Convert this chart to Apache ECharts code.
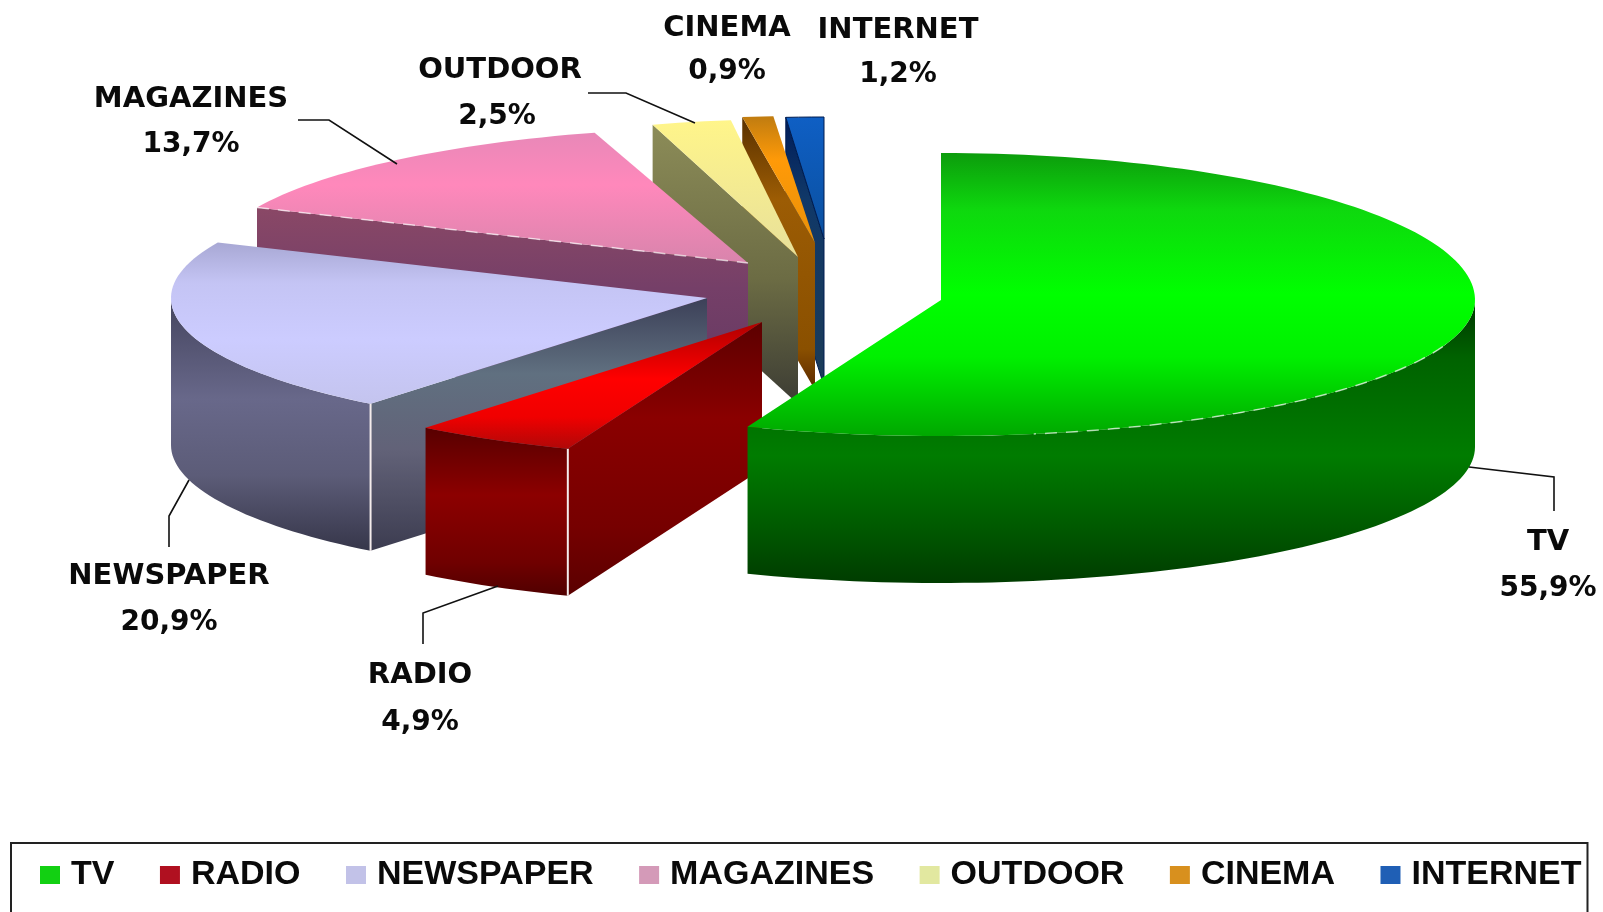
<!DOCTYPE html>
<html>
<head>
<meta charset="utf-8">
<style>html,body{margin:0;padding:0;background:#fff}#chart{width:1603px;height:912px}</style>
<script src="https://cdn.jsdelivr.net/npm/echarts@6/dist/echarts.min.js"></script>
</head>
<body>
<div id="chart"></div>
<script>
// Share of advertising spend per medium, in percent
const categories = ['TV', 'RADIO', 'NEWSPAPER', 'MAGAZINES', 'OUTDOOR', 'CINEMA', 'INTERNET'];
const shares = [55.9, 4.9, 20.9, 13.7, 2.5, 0.9, 1.2];
const legendColors = ['#12d012', '#b01020', '#c2c2e8', '#d49ab8', '#e2e8a0', '#d8901e', '#1f5fb5'];

// Pie projection: apex of each exploded slice and its ellipse radii
const apexes = [[941, 300], [762, 322], [707, 298], [748, 263], [798, 257], [815, 243], [824, 239]];
const radiiX = [534, 536, 536, 538, 510, 553, 507];
const radiiBack = [147, 136, 136, 136, 138, 127, 122];
const radiusFront = 136;
const thickness = 147;

// Shading of each slice: top face, radial wall, rim wall
const topShades = [
  [[0, '#0c9c0c'], [0.2, '#0ed80e'], [0.5, '#00ff00'], [0.72, '#00f000'], [1, '#00a800']],
  [[0, '#b00000'], [0.45, '#ff0000'], [0.75, '#f00000'], [1, '#b00808']],
  [[0, '#a8a8d4'], [0.25, '#c4c4f4'], [0.6, '#ccccff'], [1, '#c4c4ee']],
  [[0, '#e888b8'], [0.4, '#ff88bb'], [1, '#d884ac']],
  [[0, '#fff58a'], [1, '#e8e09a']],
  [[0, '#c07c10'], [0.35, '#ff9a08'], [1, '#e89008']],
  [[0, '#0f5fc4'], [1, '#0a50a0']]
];
const wallShades = [
  [[0, '#004000'], [1, '#004000']],
  [[0, '#5c0000'], [0.35, '#8a0000'], [0.75, '#760000'], [1, '#5a0000']],
  [[0, '#3c4058'], [0.3, '#607080'], [0.6, '#626278'], [1, '#3c3c50']],
  [[0, '#8a4866'], [0.4, '#753f68'], [1, '#603860']],
  [[0, '#8c8c58'], [0.55, '#6c6c44'], [1, '#3c3c34']],
  [[0, '#583000'], [0.3, '#9c5c04'], [0.85, '#8a5000'], [1, '#5a2800']],
  [[0, '#001c58'], [0.3, '#103868'], [1, '#1c3c58']]
];
const rimShades = [
  [[0, '#003400'], [0.2, '#006200'], [0.55, '#007c00'], [0.8, '#005a00'], [1, '#003c00']],
  [[0, '#580000'], [0.4, '#8c0000'], [0.8, '#700000'], [1, '#500000']],
  [[0, '#44445e'], [0.4, '#68688a'], [0.7, '#5c5c78'], [1, '#36364a']],
  [[0, '#804060'], [1, '#603850']],
  [[0, '#8c8c58'], [1, '#5c5c40']],
  [[0, '#583000'], [1, '#8a5000']],
  [[0, '#001c58'], [1, '#1c3c58']]
];
const dashedRimEdges = ['TV', 'MAGAZINES'];

// Callout text centres and leader lines
const nameCentres = [[1548, 542], [420, 675], [169, 576], [191, 99], [500, 70], [727, 28], [898, 30]];
const valueCentres = [[1548, 589], [420, 723], [169, 623], [191, 145], [497, 117], [727, 72], [898, 75]];
const leaders = [
  [[1469, 467], [1554, 477], [1554, 511]],
  [[498, 586], [423, 613], [423, 644]],
  [[189, 480], [169, 516], [169, 547]],
  [[298, 120], [329, 120], [397, 164]],
  [[588, 93], [626, 93], [695, 123]],
  null,
  null
];

const total = shares.reduce((a, b) => a + b, 0);
const startShares = shares.map((_, i) => shares.slice(0, i).reduce((a, b) => a + b, 0));

const shade = stops => new echarts.graphic.LinearGradient(0, 0, 0, 1,
  stops.map(([offset, color]) => ({ offset, color })));

// Project a clockwise-from-top angle (degrees) onto the tilted ellipse of slice i
function project(i, deg, drop) {
  const t = deg * Math.PI / 180;
  const c = Math.cos(t);
  const ry = c > 0 ? radiiBack[i] : radiusFront;
  return [apexes[i][0] + radiiX[i] * Math.sin(t), apexes[i][1] - ry * c + (drop || 0)];
}

function arc(i, from, to, drop) {
  const pts = [];
  const n = Math.max(2, Math.ceil(Math.abs(to - from) / 1.5));
  for (let k = 0; k <= n; k++) pts.push(project(i, from + (to - from) * k / n, drop));
  return pts;
}

// A radial wall shows only when the slice's face lies above the wall's top edge
function wallVisible(i, deg, mid) {
  const a = apexes[i], p = project(i, deg), m = project(i, mid);
  if (Math.abs(p[0] - a[0]) < 1) return false;
  return m[1] < a[1] + (p[1] - a[1]) * (m[0] - a[0]) / (p[0] - a[0]);
}

function renderSlice(i, api) {
  const value = api.value(0);
  const a0 = startShares[i] / total * 360;
  const a1 = a0 + value / total * 360;
  const mid = (a0 + a1) / 2;
  const apex = apexes[i];
  const parts = [];

  const addWall = deg => {
    const p = project(i, deg);
    parts.push({
      type: 'polygon',
      shape: { points: [apex, p, [p[0], p[1] + thickness], [apex[0], apex[1] + thickness]] },
      style: { fill: shade(wallShades[i]), stroke: i === 6 ? '#001c50' : null, lineWidth: 1 }
    });
  };
  const startShows = wallVisible(i, a0, mid);
  const endShows = wallVisible(i, a1, mid);
  if (startShows) addWall(a0);
  if (endShows) addWall(a1);

  // Front rim, only on the half of the ellipse that faces the viewer
  const rimFrom = Math.max(a0, 90), rimTo = Math.min(a1, 270);
  if (rimTo > rimFrom) {
    const upper = arc(i, rimFrom, rimTo, 0);
    const lower = arc(i, rimTo, rimFrom, thickness);
    parts.push({
      type: 'polygon',
      shape: { points: upper.concat(lower) },
      style: { fill: shade(rimShades[i]) }
    });
    if (startShows && rimFrom === a0) {
      const p = project(i, a0);
      parts.push({
        type: 'line',
        shape: { x1: p[0], y1: p[1], x2: p[0], y2: p[1] + thickness },
        style: { stroke: '#f4ecec', lineWidth: 2 }
      });
    }
  }

  // Top face
  parts.push({
    type: 'polygon',
    shape: { points: [apex].concat(arc(i, a0, a1, 0)) },
    style: { fill: shade(topShades[i]), stroke: i === 6 ? '#001c50' : null, lineWidth: 1 }
  });

  // Broken light seam along the upper edge of the wall
  if (dashedRimEdges.includes(categories[i])) {
    parts.push({
      type: 'polyline',
      shape: { points: i === 0 ? arc(i, 110, 170, 0) : [project(i, a0), apex] },
      style: { stroke: 'rgba(255,255,255,0.65)', fill: null, lineWidth: 1.5, lineDash: [12, 9] }
    });
  }

  // Callout
  if (leaders[i]) {
    parts.push({
      type: 'polyline',
      shape: { points: leaders[i] },
      style: { stroke: '#111', fill: null, lineWidth: 1.6 }
    });
  }
  const labelFont = { fontFamily: 'DejaVu Sans', fontWeight: 'bold', fill: '#0a0a0a', align: 'center', verticalAlign: 'middle' };
  parts.push({
    type: 'text',
    style: Object.assign({ x: nameCentres[i][0], y: nameCentres[i][1], text: categories[i], fontSize: 29 }, labelFont)
  });
  parts.push({
    type: 'text',
    style: Object.assign({ x: valueCentres[i][0], y: valueCentres[i][1], text: value.toFixed(1).replace('.', ',') + '%', fontSize: 28 }, labelFont)
  });

  return { type: 'group', children: parts };
}

const chart = echarts.init(document.getElementById('chart'), null, { renderer: 'canvas' });
chart.setOption({
  animation: false,
  backgroundColor: '#ffffff',
  legend: {
    left: 11,
    top: 843,
    width: 1575,
    orient: 'horizontal',
    padding: [15, 6, 50, 29],
    itemGap: 45.5,
    itemWidth: 20,
    itemHeight: 18,
    icon: 'rect',
    borderColor: '#222',
    borderWidth: 2,
    selectedMode: false,
    data: categories,
    textStyle: { fontFamily: 'Liberation Sans', fontWeight: 'bold', fontSize: 34, color: '#0a0a0a', padding: [5, 0, 0, 6] }
  },
  series: categories.map((name, i) => ({
    type: 'custom',
    name,
    coordinateSystem: 'none',
    silent: true,
    z: 10 - i,
    itemStyle: { color: legendColors[i] },
    data: [[shares[i]]],
    renderItem: (params, api) => renderSlice(i, api)
  }))
});
</script>
</body>
</html>
